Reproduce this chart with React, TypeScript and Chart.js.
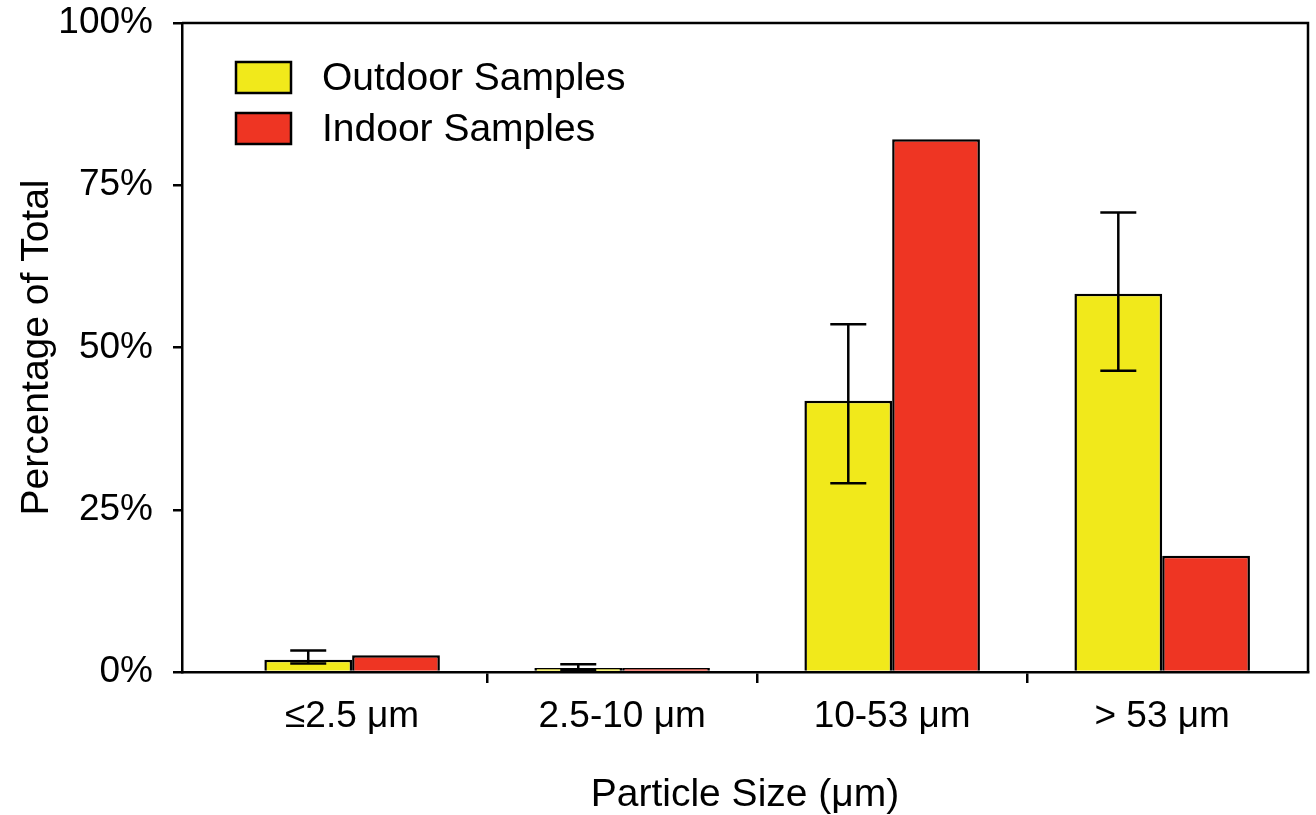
import React, { useEffect, useRef } from "react";
import { Chart, registerables } from "chart.js";

Chart.register(...registerables);

const categories = ["≤2.5 μm", "2.5-10 μm", "10-53 μm", "> 53 μm"];
const outdoorValues = [1.9, 0.6, 41.8, 58.3];
const outdoorErrHigh = [3.3, 1.2, 53.6, 70.8];
const outdoorErrLow = [1.3, 0.3, 29.1, 46.4];
const indoorValues = [2.6, 0.6, 82.1, 17.9];
const yTickValues = [0, 25, 50, 75, 100];
const seriesLabels = ["Outdoor Samples", "Indoor Samples"];
const seriesColors = ["#F1E91B", "#EE3523"];

const FONT = "'Liberation Sans', Arial, sans-serif";

const errorBarPlugin = {
  id: "errorBars",
  afterDatasetsDraw(chart: any) {
    const meta = chart.getDatasetMeta(0);
    const y = chart.scales.y;
    const ctx = chart.ctx;
    ctx.save();
    ctx.strokeStyle = "#000";
    ctx.lineWidth = 2.5;
    meta.data.forEach((bar: any, i: number) => {
      const x = bar.x;
      const yh = y.getPixelForValue(outdoorErrHigh[i]);
      const yl = y.getPixelForValue(outdoorErrLow[i]);
      const cap = 18;
      ctx.beginPath();
      ctx.moveTo(x, yh);
      ctx.lineTo(x, yl);
      ctx.moveTo(x - cap, yh);
      ctx.lineTo(x + cap, yh);
      ctx.moveTo(x - cap, yl);
      ctx.lineTo(x + cap, yl);
      ctx.stroke();
    });
    ctx.restore();
  },
};

const framePlugin = {
  id: "frame",
  afterDraw(chart: any) {
    const { ctx, chartArea } = chart;
    ctx.save();
    ctx.strokeStyle = "#000";
    ctx.lineWidth = 2.5;
    ctx.beginPath();
    ctx.moveTo(chartArea.left, chartArea.top);
    ctx.lineTo(chartArea.right, chartArea.top);
    ctx.lineTo(chartArea.right, chartArea.bottom);
    ctx.stroke();
    ctx.restore();
  },
};

const legendPlugin = {
  id: "insideLegend",
  afterDraw(chart: any) {
    const { ctx, chartArea } = chart;
    ctx.save();
    chart.data.datasets.forEach((ds: any, i: number) => {
      const bx = chartArea.left + 54;
      const by = chartArea.top + 39 + i * 51;
      ctx.fillStyle = ds.backgroundColor;
      ctx.fillRect(bx, by, 55, 31);
      ctx.strokeStyle = "#000";
      ctx.lineWidth = 2.5;
      ctx.strokeRect(bx, by, 55, 31);
      ctx.fillStyle = "#000";
      ctx.font = `39px ${FONT}`;
      ctx.textBaseline = "middle";
      ctx.textAlign = "left";
      ctx.fillText(ds.label, bx + 86, by + 17);
    });
    ctx.restore();
  },
};

export default function App() {
  const canvasRef = useRef<HTMLCanvasElement | null>(null);

  useEffect(() => {
    if (!canvasRef.current) return;
    const chart = new Chart(canvasRef.current, {
      type: "bar",
      data: {
        datasets: [
          {
            label: seriesLabels[0],
            data: outdoorValues.map((v, i) => ({ x: i + 1, y: v })),
            backgroundColor: seriesColors[0],
            borderColor: "#000",
            borderWidth: 2.5,
            categoryPercentage: 1.3,
            barPercentage: 1,
          },
          {
            label: seriesLabels[1],
            data: indoorValues.map((v, i) => ({ x: i + 1, y: v })),
            backgroundColor: seriesColors[1],
            borderColor: "#000",
            borderWidth: 2.5,
            categoryPercentage: 1.3,
            barPercentage: 1,
          },
        ],
      },
      options: {
        animation: false,
        responsive: false,
        maintainAspectRatio: false,
        layout: { padding: { left: 0, top: 23, right: 8, bottom: 0 } },
        plugins: {
          legend: { display: false },
          tooltip: { enabled: false },
        },
        scales: {
          x: {
            type: "linear",
            offset: false,
            min: 0.37,
            max: 4.54,
            afterBuildTicks: (scale: any) => {
              const t: any[] = [];
              categories.forEach((_, i) => {
                t.push({ value: i + 1 });
                if (i < categories.length - 1) t.push({ value: i + 1.5 });
              });
              scale.ticks = t;
            },
            afterFit: (scale: any) => {
              scale.height = 143;
              scale.paddingLeft = 0;
              scale.paddingRight = 0;
            },
            ticks: {
              autoSkip: false,
              maxRotation: 0,
              color: "#000",
              font: { family: FONT, size: 37 },
              padding: 12,
              callback: (value: any) =>
                Number.isInteger(value) ? categories[value - 1] : "",
            },
            grid: {
              offset: false,
              drawOnChartArea: false,
              drawTicks: true,
              tickLength: 11,
              lineWidth: 2.5,
              tickColor: (ctx: any) =>
                ctx.tick && Number.isInteger(ctx.tick.value) ? "rgba(0,0,0,0)" : "#000",
            },
            border: { display: true, color: "#000", width: 2.5 },
            title: {
              display: true,
              text: "Particle Size (μm)",
              color: "#000",
              font: { family: FONT, size: 39, lineHeight: 1 },
              padding: { top: 1, bottom: 0 },
            },
          },
          y: {
            type: "linear",
            min: 0,
            max: 100,
            afterBuildTicks: (scale: any) => {
              scale.ticks = yTickValues.map((v) => ({ value: v }));
            },
            afterFit: (scale: any) => {
              scale.width = 182;
              scale.paddingTop = 0;
              scale.paddingBottom = 0;
            },
            ticks: {
              color: "#000",
              font: { family: FONT, size: 37 },
              padding: 20,
              callback: (value: any) => `${value}%`,
            },
            grid: {
              drawOnChartArea: false,
              drawTicks: true,
              tickLength: 9,
              lineWidth: 2.5,
              tickColor: "#000",
            },
            border: { display: true, color: "#000", width: 2.5 },
            title: {
              display: true,
              text: "Percentage of Total",
              color: "#000",
              font: { family: FONT, size: 39, lineHeight: 1 },
              padding: { top: 18, bottom: 0 },
            },
          },
        },
      } as any,
      plugins: [errorBarPlugin, framePlugin, legendPlugin],
    });
    return () => chart.destroy();
  }, []);

  return (
    <div style={{ position: "fixed", left: 0, top: 0, width: 1316, height: 815, background: "#fff" }}>
      <canvas ref={canvasRef} width={1316} height={815} style={{ width: 1316, height: 815 }} />
    </div>
  );
}
